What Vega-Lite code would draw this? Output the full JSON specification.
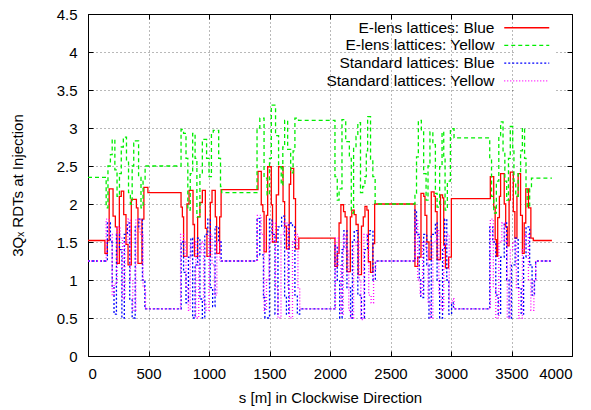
{
"$schema":"https://vega.github.io/schema/vega-lite/v6.json",
"width":484,"height":342,
"autosize":{"type":"none"},
"padding":{"left":88,"top":14,"right":19,"bottom":54},
"background":"white",
"config":{"font":"Liberation Sans","view":{"stroke":"black","strokeWidth":1},
"axis":{"labelFont":"Liberation Sans","labelFontSize":15,"labelColor":"black","titleFont":"Liberation Sans","titleFontSize":15,"titleFontWeight":"normal","titleColor":"black","domain":false,"tickColor":"black","tickSize":-5,"labelPadding":16,"grid":true,"gridColor":"#000","gridDash":[1,3],"gridOpacity":0.55,"gridWidth":1},
"legend":{"labelFont":"Liberation Sans","labelFontSize":15.5,"labelColor":"black","titleFont":"Liberation Sans","titleFontSize":15}},
"data":{"values":[
{"k":"A","s":0,"v":1.52},{"k":"A","s":140,"v":1.35},{"k":"A","s":160,"v":1.52},{"k":"A","s":175,"v":2.2},{"k":"A","s":207,"v":1.84},{"k":"A","s":226,"v":1.7},{"k":"A","s":240,"v":1.22},{"k":"A","s":259,"v":2.1},{"k":"A","s":275,"v":2.17},{"k":"A","s":295,"v":1.86},{"k":"A","s":314,"v":1.47},{"k":"A","s":331,"v":1.2},{"k":"A","s":358,"v":2.06},{"k":"A","s":400,"v":1.95},{"k":"A","s":413,"v":1.22},{"k":"A","s":446,"v":1.8},{"k":"A","s":462,"v":2.22},{"k":"A","s":495,"v":2.15},
{"k":"A","s":769,"v":1.96},{"k":"A","s":780,"v":1.83},{"k":"A","s":790,"v":1.31},{"k":"A","s":818,"v":2.0},{"k":"A","s":835,"v":2.18},{"k":"A","s":868,"v":1.73},{"k":"A","s":880,"v":1.31},{"k":"A","s":906,"v":1.83},{"k":"A","s":925,"v":2.02},{"k":"A","s":945,"v":2.18},{"k":"A","s":970,"v":1.68},{"k":"A","s":983,"v":1.31},{"k":"A","s":1011,"v":2.02},{"k":"A","s":1025,"v":2.18},{"k":"A","s":1052,"v":1.83},{"k":"A","s":1063,"v":1.35},{"k":"A","s":1088,"v":1.83},{"k":"A","s":1100,"v":2.19},
{"k":"A","s":1405,"v":2.43},{"k":"A","s":1432,"v":1.99},{"k":"A","s":1445,"v":1.9},{"k":"A","s":1455,"v":1.37},{"k":"A","s":1474,"v":1.85},{"k":"A","s":1485,"v":2.49},{"k":"A","s":1515,"v":1.99},{"k":"A","s":1525,"v":1.5},{"k":"A","s":1556,"v":2.12},{"k":"A","s":1575,"v":2.49},{"k":"A","s":1612,"v":2.03},{"k":"A","s":1625,"v":1.71},{"k":"A","s":1640,"v":1.41},{"k":"A","s":1663,"v":2.26},{"k":"A","s":1675,"v":2.47},{"k":"A","s":1700,"v":2.07},{"k":"A","s":1715,"v":1.41},{"k":"A","s":1742,"v":1.55},
{"k":"A","s":2041,"v":1.18},{"k":"A","s":2060,"v":1.35},{"k":"A","s":2075,"v":1.75},{"k":"A","s":2090,"v":1.99},{"k":"A","s":2112,"v":1.9},{"k":"A","s":2125,"v":1.83},{"k":"A","s":2140,"v":1.11},{"k":"A","s":2168,"v":1.83},{"k":"A","s":2180,"v":1.92},{"k":"A","s":2200,"v":1.86},{"k":"A","s":2215,"v":1.73},{"k":"A","s":2233,"v":1.07},{"k":"A","s":2260,"v":1.71},{"k":"A","s":2275,"v":1.83},{"k":"A","s":2289,"v":1.97},{"k":"A","s":2305,"v":1.92},{"k":"A","s":2317,"v":1.24},{"k":"A","s":2335,"v":1.1},{"k":"A","s":2354,"v":1.48},{"k":"A","s":2369,"v":2.0},
{"k":"A","s":2702,"v":1.18},{"k":"A","s":2725,"v":1.3},{"k":"A","s":2752,"v":2.14},{"k":"A","s":2775,"v":2.1},{"k":"A","s":2785,"v":1.85},{"k":"A","s":2800,"v":1.5},{"k":"A","s":2818,"v":1.27},{"k":"A","s":2837,"v":2.16},{"k":"A","s":2860,"v":2.1},{"k":"A","s":2871,"v":1.9},{"k":"A","s":2885,"v":1.27},{"k":"A","s":2913,"v":2.12},{"k":"A","s":2930,"v":2.08},{"k":"A","s":2940,"v":1.46},{"k":"A","s":2954,"v":1.16},{"k":"A","s":2980,"v":1.3},{"k":"A","s":3003,"v":2.07},
{"k":"A","s":3325,"v":2.36},{"k":"A","s":3353,"v":1.96},{"k":"A","s":3365,"v":1.53},{"k":"A","s":3375,"v":1.31},{"k":"A","s":3386,"v":1.82},{"k":"A","s":3400,"v":2.1},{"k":"A","s":3410,"v":2.4},{"k":"A","s":3440,"v":2.0},{"k":"A","s":3452,"v":1.7},{"k":"A","s":3465,"v":1.45},{"k":"A","s":3480,"v":2.05},{"k":"A","s":3490,"v":2.42},{"k":"A","s":3515,"v":1.9},{"k":"A","s":3528,"v":1.55},{"k":"A","s":3545,"v":2.1},{"k":"A","s":3555,"v":2.4},{"k":"A","s":3575,"v":1.85},{"k":"A","s":3590,"v":1.35},{"k":"A","s":3605,"v":1.75},{"k":"A","s":3618,"v":2.2},{"k":"A","s":3640,"v":1.95},{"k":"A","s":3660,"v":1.55},{"k":"A","s":3680,"v":1.52},{"k":"A","s":3834,"v":1.52},

{"k":"B","s":0,"v":2.35},{"k":"B","s":150,"v":1.95},{"k":"B","s":165,"v":2.5},{"k":"B","s":185,"v":2.65},{"k":"B","s":200,"v":2.85},{"k":"B","s":222,"v":2.45},{"k":"B","s":240,"v":2.1},{"k":"B","s":260,"v":2.4},{"k":"B","s":275,"v":2.75},{"k":"B","s":292,"v":2.88},{"k":"B","s":318,"v":2.55},{"k":"B","s":335,"v":2.15},{"k":"B","s":350,"v":2.0},{"k":"B","s":365,"v":2.5},{"k":"B","s":378,"v":2.8},{"k":"B","s":392,"v":2.83},{"k":"B","s":418,"v":2.35},{"k":"B","s":438,"v":1.95},{"k":"B","s":455,"v":2.3},{"k":"B","s":472,"v":2.5},
{"k":"B","s":769,"v":2.98},{"k":"B","s":790,"v":2.93},{"k":"B","s":810,"v":2.6},{"k":"B","s":825,"v":1.92},{"k":"B","s":845,"v":2.4},{"k":"B","s":865,"v":2.93},{"k":"B","s":885,"v":2.6},{"k":"B","s":900,"v":1.83},{"k":"B","s":925,"v":2.4},{"k":"B","s":945,"v":2.85},{"k":"B","s":980,"v":2.6},{"k":"B","s":1000,"v":2.36},{"k":"B","s":1020,"v":2.93},{"k":"B","s":1035,"v":2.97},{"k":"B","s":1080,"v":2.6},{"k":"B","s":1095,"v":2.23},{"k":"B","s":1105,"v":2.15},
{"k":"B","s":1397,"v":3.0},{"k":"B","s":1420,"v":3.13},{"k":"B","s":1455,"v":2.34},{"k":"B","s":1480,"v":2.12},{"k":"B","s":1500,"v":2.6},{"k":"B","s":1515,"v":3.3},{"k":"B","s":1550,"v":2.9},{"k":"B","s":1575,"v":2.49},{"k":"B","s":1597,"v":2.25},{"k":"B","s":1610,"v":2.75},{"k":"B","s":1625,"v":3.1},{"k":"B","s":1650,"v":2.72},{"k":"B","s":1675,"v":2.41},{"k":"B","s":1695,"v":2.7},{"k":"B","s":1710,"v":3.13},{"k":"B","s":1740,"v":3.1},
{"k":"B","s":2041,"v":2.36},{"k":"B","s":2060,"v":2.05},{"k":"B","s":2075,"v":2.2},{"k":"B","s":2099,"v":3.11},{"k":"B","s":2130,"v":2.82},{"k":"B","s":2160,"v":2.6},{"k":"B","s":2176,"v":1.88},{"k":"B","s":2195,"v":2.73},{"k":"B","s":2215,"v":2.89},{"k":"B","s":2230,"v":3.07},{"k":"B","s":2252,"v":2.15},{"k":"B","s":2270,"v":2.23},{"k":"B","s":2289,"v":2.36},{"k":"B","s":2300,"v":2.7},{"k":"B","s":2311,"v":3.15},{"k":"B","s":2335,"v":2.59},{"k":"B","s":2354,"v":2.36},{"k":"B","s":2373,"v":2.0},
{"k":"B","s":2702,"v":2.14},{"k":"B","s":2715,"v":2.62},{"k":"B","s":2730,"v":3.1},{"k":"B","s":2755,"v":2.95},{"k":"B","s":2774,"v":2.4},{"k":"B","s":2794,"v":2.05},{"k":"B","s":2810,"v":2.5},{"k":"B","s":2826,"v":2.95},{"k":"B","s":2850,"v":2.78},{"k":"B","s":2871,"v":2.14},{"k":"B","s":2885,"v":1.96},{"k":"B","s":2906,"v":2.49},{"k":"B","s":2926,"v":2.95},{"k":"B","s":2940,"v":2.62},{"k":"B","s":2951,"v":1.92},{"k":"B","s":2970,"v":2.3},{"k":"B","s":2995,"v":2.99},{"k":"B","s":3025,"v":2.87},
{"k":"B","s":3320,"v":2.6},{"k":"B","s":3335,"v":2.1},{"k":"B","s":3353,"v":1.88},{"k":"B","s":3375,"v":2.3},{"k":"B","s":3395,"v":2.9},{"k":"B","s":3410,"v":3.08},{"k":"B","s":3430,"v":2.7},{"k":"B","s":3445,"v":2.3},{"k":"B","s":3460,"v":2.05},{"k":"B","s":3475,"v":2.6},{"k":"B","s":3490,"v":3.02},{"k":"B","s":3510,"v":2.7},{"k":"B","s":3520,"v":2.3},{"k":"B","s":3535,"v":2.1},{"k":"B","s":3555,"v":2.4},{"k":"B","s":3575,"v":2.7},{"k":"B","s":3590,"v":3.0},{"k":"B","s":3608,"v":2.6},{"k":"B","s":3620,"v":2.2},{"k":"B","s":3630,"v":1.96},{"k":"B","s":3650,"v":2.2},{"k":"B","s":3665,"v":2.34},{"k":"B","s":3834,"v":2.34},

{"k":"C","s":0,"v":1.25},{"k":"C","s":160,"v":1.75},{"k":"C","s":185,"v":1.5},{"k":"C","s":200,"v":0.9},{"k":"C","s":215,"v":0.55},{"k":"C","s":235,"v":1.6},{"k":"C","s":260,"v":1.4},{"k":"C","s":280,"v":0.5},{"k":"C","s":300,"v":1.6},{"k":"C","s":325,"v":1.75},{"k":"C","s":345,"v":0.75},{"k":"C","s":365,"v":0.5},{"k":"C","s":390,"v":1.7},{"k":"C","s":420,"v":1.8},{"k":"C","s":450,"v":1.0},{"k":"C","s":470,"v":0.62},
{"k":"C","s":770,"v":1.5},{"k":"C","s":790,"v":1.1},{"k":"C","s":810,"v":0.7},{"k":"C","s":830,"v":1.3},{"k":"C","s":850,"v":1.55},{"k":"C","s":865,"v":0.5},{"k":"C","s":885,"v":1.2},{"k":"C","s":905,"v":1.55},{"k":"C","s":925,"v":0.75},{"k":"C","s":945,"v":0.5},{"k":"C","s":965,"v":1.6},{"k":"C","s":990,"v":1.8},{"k":"C","s":1010,"v":0.9},{"k":"C","s":1030,"v":0.65},{"k":"C","s":1050,"v":1.7},{"k":"C","s":1080,"v":1.5},{"k":"C","s":1100,"v":1.25},
{"k":"C","s":1397,"v":1.81},{"k":"C","s":1420,"v":1.33},{"k":"C","s":1450,"v":0.77},{"k":"C","s":1462,"v":0.5},{"k":"C","s":1500,"v":1.8},{"k":"C","s":1520,"v":1.6},{"k":"C","s":1545,"v":0.55},{"k":"C","s":1570,"v":1.7},{"k":"C","s":1600,"v":1.84},{"k":"C","s":1625,"v":0.77},{"k":"C","s":1640,"v":0.55},{"k":"C","s":1660,"v":1.75},{"k":"C","s":1690,"v":1.7},{"k":"C","s":1710,"v":0.8},{"k":"C","s":1730,"v":0.55},{"k":"C","s":1750,"v":0.62},
{"k":"C","s":2041,"v":1.45},{"k":"C","s":2060,"v":1.0},{"k":"C","s":2080,"v":0.5},{"k":"C","s":2100,"v":1.4},{"k":"C","s":2115,"v":1.65},{"k":"C","s":2140,"v":0.9},{"k":"C","s":2170,"v":0.5},{"k":"C","s":2185,"v":1.5},{"k":"C","s":2200,"v":1.65},{"k":"C","s":2230,"v":0.8},{"k":"C","s":2260,"v":0.5},{"k":"C","s":2285,"v":1.4},{"k":"C","s":2310,"v":1.6},{"k":"C","s":2330,"v":1.65},{"k":"C","s":2355,"v":1.0},{"k":"C","s":2375,"v":1.25},
{"k":"C","s":2702,"v":1.92},{"k":"C","s":2715,"v":1.6},{"k":"C","s":2738,"v":1.0},{"k":"C","s":2750,"v":0.77},{"k":"C","s":2774,"v":1.6},{"k":"C","s":2800,"v":1.2},{"k":"C","s":2818,"v":0.5},{"k":"C","s":2837,"v":1.6},{"k":"C","s":2871,"v":1.75},{"k":"C","s":2885,"v":1.0},{"k":"C","s":2906,"v":0.5},{"k":"C","s":2930,"v":1.4},{"k":"C","s":2948,"v":1.8},{"k":"C","s":2965,"v":1.0},{"k":"C","s":2982,"v":0.55},{"k":"C","s":3005,"v":0.7},{"k":"C","s":3020,"v":0.62},
{"k":"C","s":3320,"v":1.7},{"k":"C","s":3345,"v":1.5},{"k":"C","s":3370,"v":0.8},{"k":"C","s":3390,"v":0.55},{"k":"C","s":3410,"v":1.3},{"k":"C","s":3440,"v":1.75},{"k":"C","s":3460,"v":1.0},{"k":"C","s":3480,"v":0.5},{"k":"C","s":3500,"v":1.2},{"k":"C","s":3530,"v":1.55},{"k":"C","s":3555,"v":0.9},{"k":"C","s":3580,"v":0.55},{"k":"C","s":3600,"v":1.3},{"k":"C","s":3620,"v":1.7},{"k":"C","s":3650,"v":1.2},{"k":"C","s":3670,"v":0.8},{"k":"C","s":3690,"v":1.0},{"k":"C","s":3700,"v":1.25},{"k":"C","s":3834,"v":1.25},

{"k":"D","s":0,"v":1.25},{"k":"D","s":150,"v":1.8},{"k":"D","s":175,"v":1.6},{"k":"D","s":200,"v":0.8},{"k":"D","s":215,"v":0.95},{"k":"D","s":240,"v":1.7},{"k":"D","s":265,"v":1.55},{"k":"D","s":285,"v":0.75},{"k":"D","s":305,"v":1.5},{"k":"D","s":330,"v":1.8},{"k":"D","s":350,"v":1.0},{"k":"D","s":370,"v":0.6},{"k":"D","s":395,"v":1.8},{"k":"D","s":430,"v":1.6},{"k":"D","s":455,"v":0.9},{"k":"D","s":475,"v":0.62},
{"k":"D","s":765,"v":1.6},{"k":"D","s":790,"v":1.5},{"k":"D","s":810,"v":0.9},{"k":"D","s":830,"v":0.6},{"k":"D","s":845,"v":1.45},{"k":"D","s":870,"v":1.5},{"k":"D","s":890,"v":0.5},{"k":"D","s":915,"v":1.35},{"k":"D","s":935,"v":1.5},{"k":"D","s":955,"v":0.7},{"k":"D","s":975,"v":0.6},{"k":"D","s":1000,"v":1.6},{"k":"D","s":1025,"v":1.2},{"k":"D","s":1045,"v":0.8},{"k":"D","s":1065,"v":1.5},{"k":"D","s":1090,"v":1.25},
{"k":"D","s":1400,"v":1.85},{"k":"D","s":1430,"v":1.6},{"k":"D","s":1455,"v":0.6},{"k":"D","s":1475,"v":1.0},{"k":"D","s":1495,"v":1.5},{"k":"D","s":1525,"v":1.75},{"k":"D","s":1550,"v":0.9},{"k":"D","s":1570,"v":0.5},{"k":"D","s":1595,"v":1.6},{"k":"D","s":1620,"v":1.75},{"k":"D","s":1650,"v":0.9},{"k":"D","s":1665,"v":0.5},{"k":"D","s":1690,"v":1.5},{"k":"D","s":1715,"v":1.6},{"k":"D","s":1735,"v":0.9},{"k":"D","s":1750,"v":0.62},
{"k":"D","s":2045,"v":1.55},{"k":"D","s":2070,"v":1.2},{"k":"D","s":2090,"v":0.55},{"k":"D","s":2110,"v":1.6},{"k":"D","s":2130,"v":1.4},{"k":"D","s":2155,"v":0.6},{"k":"D","s":2175,"v":0.5},{"k":"D","s":2195,"v":1.45},{"k":"D","s":2215,"v":1.5},{"k":"D","s":2240,"v":1.0},{"k":"D","s":2255,"v":0.48},{"k":"D","s":2280,"v":1.6},{"k":"D","s":2305,"v":1.5},{"k":"D","s":2320,"v":0.8},{"k":"D","s":2340,"v":0.7},{"k":"D","s":2360,"v":1.15},{"k":"D","s":2378,"v":1.25},
{"k":"D","s":2705,"v":1.8},{"k":"D","s":2725,"v":1.0},{"k":"D","s":2745,"v":0.8},{"k":"D","s":2765,"v":1.5},{"k":"D","s":2790,"v":1.4},{"k":"D","s":2810,"v":0.7},{"k":"D","s":2830,"v":0.5},{"k":"D","s":2850,"v":1.5},{"k":"D","s":2880,"v":1.65},{"k":"D","s":2900,"v":0.8},{"k":"D","s":2920,"v":0.6},{"k":"D","s":2940,"v":1.45},{"k":"D","s":2960,"v":1.6},{"k":"D","s":2985,"v":0.7},{"k":"D","s":3010,"v":0.75},{"k":"D","s":3025,"v":0.62},
{"k":"D","s":3325,"v":1.8},{"k":"D","s":3350,"v":0.9},{"k":"D","s":3370,"v":0.5},{"k":"D","s":3395,"v":1.5},{"k":"D","s":3420,"v":1.75},{"k":"D","s":3445,"v":1.5},{"k":"D","s":3465,"v":0.5},{"k":"D","s":3490,"v":1.4},{"k":"D","s":3510,"v":1.5},{"k":"D","s":3540,"v":0.9},{"k":"D","s":3560,"v":0.5},{"k":"D","s":3590,"v":1.4},{"k":"D","s":3610,"v":1.6},{"k":"D","s":3640,"v":1.0},{"k":"D","s":3660,"v":0.6},{"k":"D","s":3685,"v":1.0},{"k":"D","s":3700,"v":1.25},{"k":"D","s":3834,"v":1.25}
]},
"layer":[
{"mark":{"type":"line","interpolate":"step-after","strokeWidth":1.3},
"encoding":{
"x":{"field":"s","type":"quantitative","scale":{"domain":[0,4000],"nice":false},"axis":{"orient":"bottom","title":"s [m] in Clockwise Direction","values":[0,500,1000,1500,2000,2500,3000,3500,4000],"format":"d","labelPadding":15,"titlePadding":9}},
"y":{"field":"v","type":"quantitative","scale":{"domain":[0,4.5],"nice":false},"axis":{"orient":"left","title":"3Qₓ RDTs at Injection","values":[0,0.5,1,1.5,2,2.5,3,3.5,4,4.5],"labelExpr":"datum.value","titlePadding":31}},
"color":{"field":"k","type":"nominal","scale":{"domain":["A","B","C","D"],"range":["#ff0000","#00ee00","#0000ff","#ff00ff"]},
"legend":{"title":"                                            ","titleOrient":"left","titlePadding":0,"orient":"none","legendX":427,"legendY":2,"fillColor":"white","padding":4,"labelAlign":"right","labelOffset":-40,"labelLimit":300,"symbolType":"M-4.5,0H4.5","symbolSize":100,"symbolStrokeWidth":1.3,"rowPadding":0.7,
"labelExpr":"{'A':'E-lens lattices: Blue','B':'E-lens lattices: Yellow','C':'Standard lattices: Blue','D':'Standard lattices: Yellow'}[datum.label]"}},
"strokeDash":{"field":"k","type":"nominal","scale":{"domain":["A","B","C","D"],"range":[[1,0],[4,3],[2,2],[1,2]]},
"legend":{"title":"                                            ","titleOrient":"left","titlePadding":0,"orient":"none","legendX":427,"legendY":2,"fillColor":"white","padding":4,"labelAlign":"right","labelOffset":-40,"labelLimit":300,"symbolType":"M-4.5,0H4.5","symbolSize":100,"symbolStrokeWidth":1.3,"rowPadding":0.7,
"labelExpr":"{'A':'E-lens lattices: Blue','B':'E-lens lattices: Yellow','C':'Standard lattices: Blue','D':'Standard lattices: Yellow'}[datum.label]"}}
}},
{"mark":{"type":"line","opacity":0},
"encoding":{
"x":{"field":"s","type":"quantitative","axis":{"orient":"top","labels":false,"title":null,"grid":false,"values":[0,500,1000,1500,2000,2500,3000,3500,4000]}},
"y":{"field":"v","type":"quantitative","axis":{"orient":"right","labels":false,"title":null,"grid":false,"values":[0,0.5,1,1.5,2,2.5,3,3.5,4,4.5]}}
}}
],
"resolve":{"axis":{"x":"independent","y":"independent"}}
}
